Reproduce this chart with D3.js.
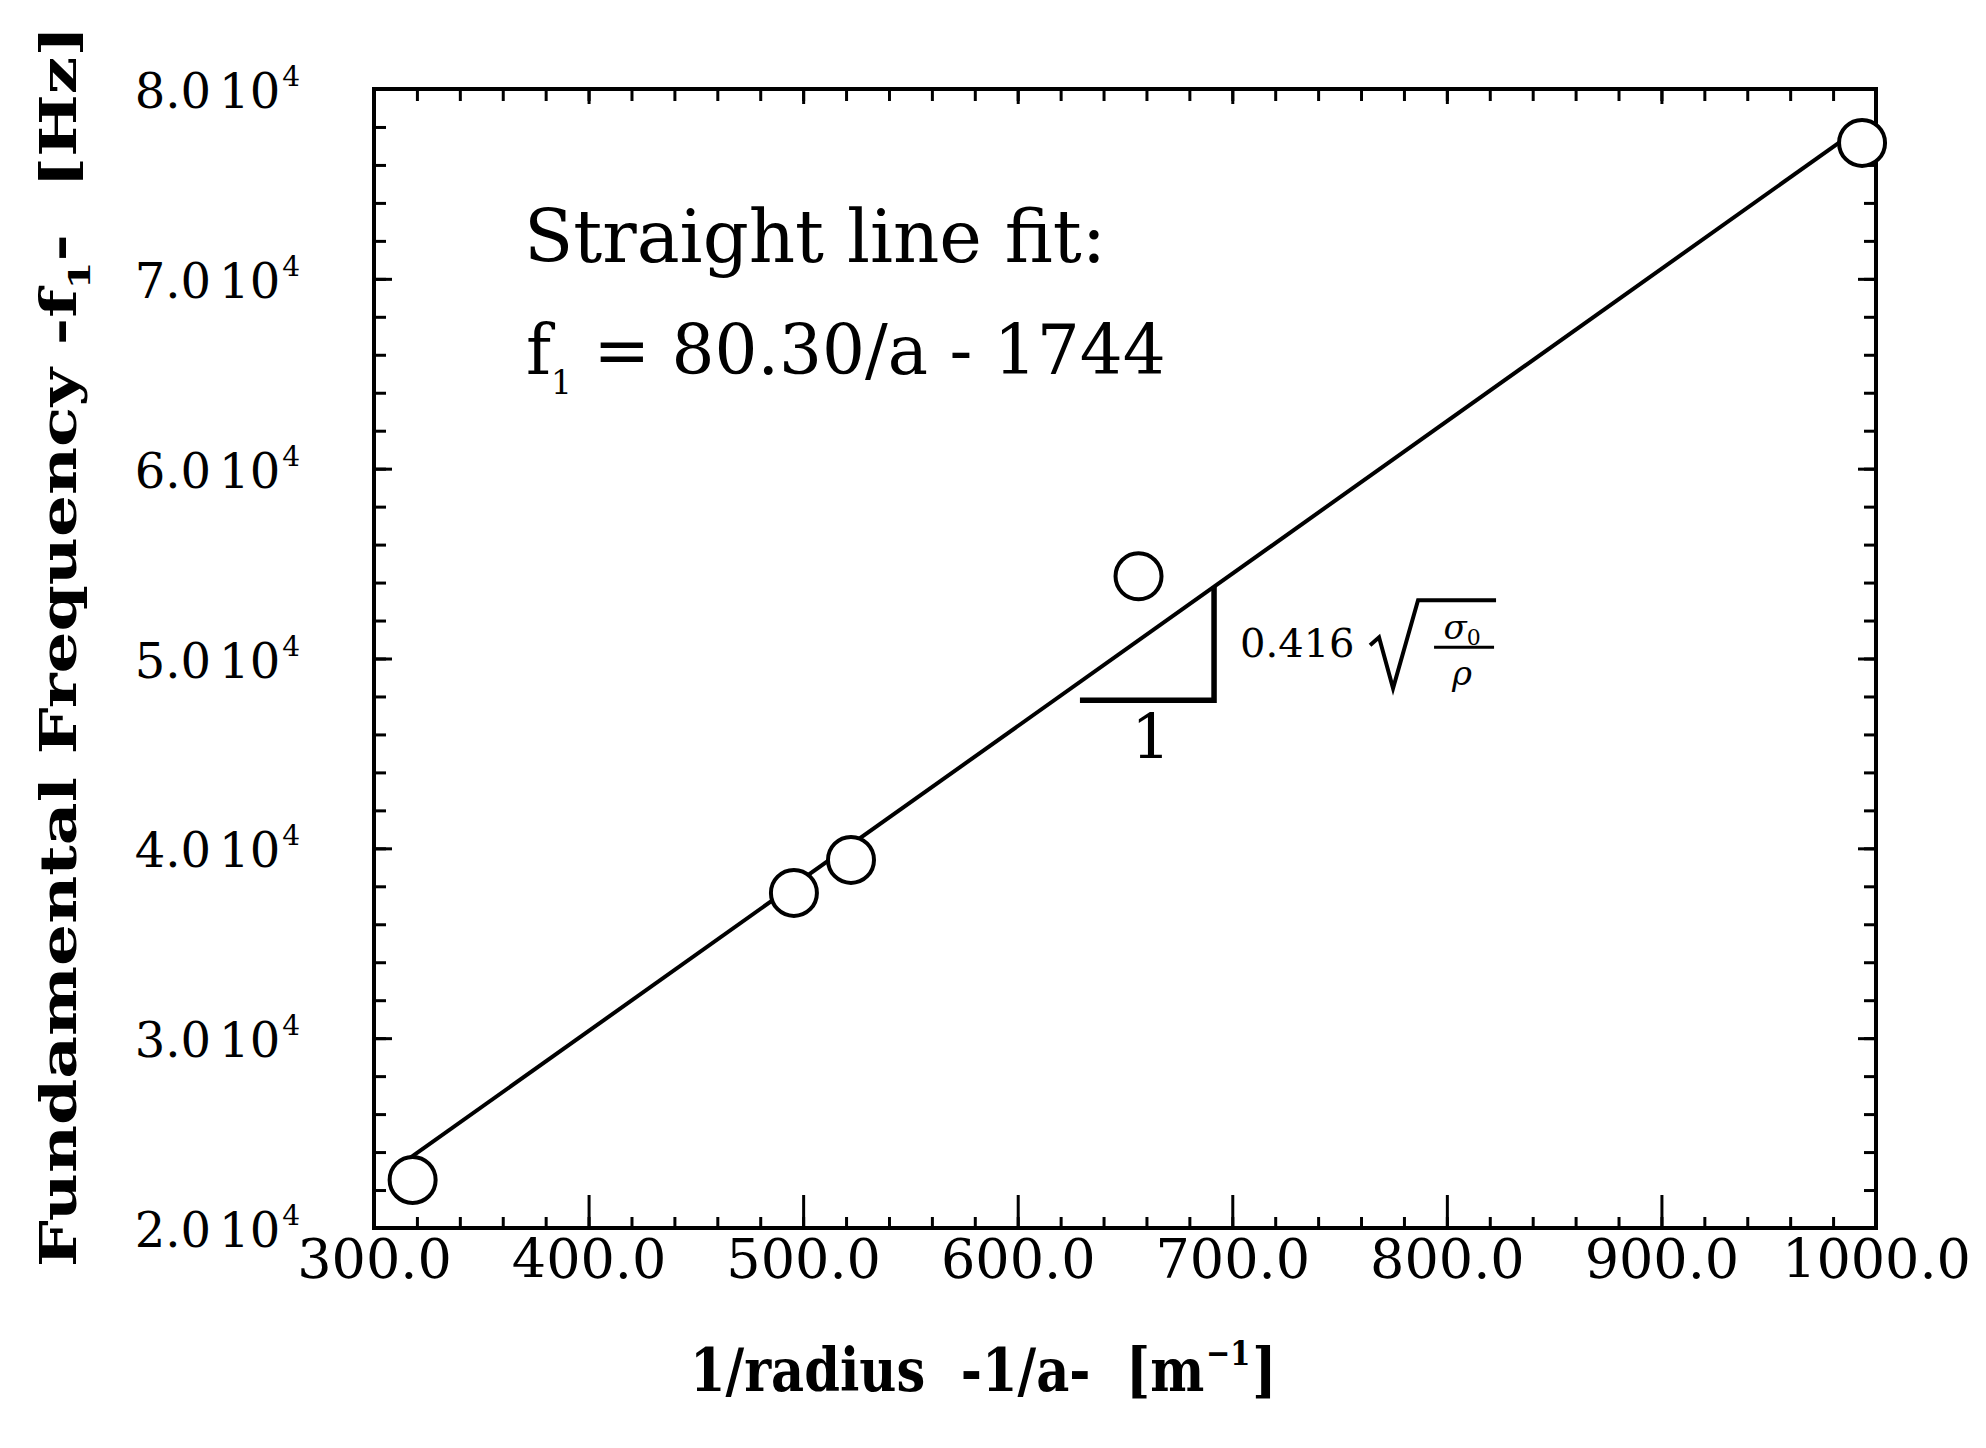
<!DOCTYPE html>
<html>
<head>
<meta charset="utf-8">
<script src="https://cdn.jsdelivr.net/npm/d3@7"></script>
<style>
  body { margin: 0; background: #fff; }
  text { font-family: "DejaVu Serif", "Liberation Serif", serif; fill: #000; white-space: pre; }
</style>
</head>
<body>
<div id="chart"></div>
<script>
// measured points: 1/a [1/m] and first frequency [Hz]
var radiusInv = [318, 495.7, 522.3, 656.3, 993.5]
var freq = [22530, 37650, 39390, 54330, 77160]

// straight line fit f1 = 80.30/a - 1744, drawn over this range of 1/a
var fitSlope = 80.30
var fitIntercept = -1744
var fitRange = [314, 993.5]

// slope triangle (x from, x to, bottom level)
var triX = [629, 691.5]
var triBase = 47800

var xMajor = [300, 400, 500, 600, 700, 800, 900, 1000]
var xMinor = d3.range(300, 1001, 20)
var yMajor = [20000, 30000, 40000, 50000, 60000, 70000, 80000]
var yMinor = d3.range(20000, 80001, 2000)
var yMantissa = ["2.0", "3.0", "4.0", "5.0", "6.0", "7.0", "8.0"]
var yExponent = "4"

var width = 1986
var height = 1448
var plotLeft = 374, plotRight = 1876, plotTop = 89, plotBottom = 1228

var svg = d3.select("#chart")
  .append("svg")
  .attr("width", width)
  .attr("height", height)

svg.append("rect").attr("width", width).attr("height", height).attr("fill", "white")

var x = d3.scaleLinear()
  .domain([300, 1000])
  .range([plotLeft, plotRight])

var y = d3.scaleLinear()
  .domain([20000, 80000])
  .range([plotBottom, plotTop])

// ticks, all pointing into the frame
function ticks(axis, tr, values, size) {
  var g = svg.append("g")
    .attr("transform", tr)
    .call(axis.tickValues(values).tickSize(size).tickFormat(""))
  g.select(".domain").remove()
  g.selectAll("line").attr("stroke", "black").attr("stroke-width", 3)
  return g
}
ticks(d3.axisBottom(x), "translate(0," + plotBottom + ")", xMinor, -11)
ticks(d3.axisBottom(x), "translate(0," + plotBottom + ")", xMajor, -33)
ticks(d3.axisTop(x), "translate(0," + plotTop + ")", xMinor, -12)
ticks(d3.axisTop(x), "translate(0," + plotTop + ")", xMajor, -15)
ticks(d3.axisLeft(y), "translate(" + plotLeft + ",0)", yMinor, -12)
ticks(d3.axisLeft(y), "translate(" + plotLeft + ",0)", yMajor, -18)
ticks(d3.axisRight(y), "translate(" + plotRight + ",0)", yMinor, -12)
ticks(d3.axisRight(y), "translate(" + plotRight + ",0)", yMajor, -18)

// x tick labels
var xl = svg.append("g")
  .attr("transform", "translate(0," + plotBottom + ")")
  .call(d3.axisBottom(x).tickValues(xMajor).tickSize(0).tickPadding(12).tickFormat(d3.format(".1f")))
xl.select(".domain").remove()
xl.attr("font-family", null).attr("font-size", null)
xl.selectAll("text").style("font-size", "54px")

// y tick labels  "8.0 10^4"
var yl = svg.append("g")
  .selectAll("text")
  .data(yMajor)
  .enter()
  .append("text")
  .attr("x", 300)
  .attr("y", function (d) { return y(d) + 19 })
  .attr("text-anchor", "end")
  .style("font-size", "48px")
yl.append("tspan").text(function (d, i) { return yMantissa[i] })
yl.append("tspan").attr("dx", 8).text("10")
yl.append("tspan").attr("dx", 2).attr("dy", -22).style("font-size", "28px").text(yExponent)

// frame
svg.append("rect")
  .attr("x", plotLeft)
  .attr("y", plotTop)
  .attr("width", plotRight - plotLeft)
  .attr("height", plotBottom - plotTop)
  .attr("fill", "none")
  .attr("stroke", "black")
  .attr("stroke-width", 4)

// fit line
var fitLine = d3.line()
  .x(function (d) { return x(d) })
  .y(function (d) { return y(fitSlope * d + fitIntercept) })

svg.append("path")
  .datum(fitRange)
  .attr("d", fitLine)
  .attr("fill", "none")
  .attr("stroke", "black")
  .attr("stroke-width", 4)

// slope triangle
var triTop = fitSlope * triX[1] + fitIntercept
svg.append("path")
  .datum([[triX[0], triBase], [triX[1], triBase], [triX[1], triTop]])
  .attr("d", d3.line().x(function (d) { return x(d[0]) }).y(function (d) { return y(d[1]) }))
  .attr("fill", "none")
  .attr("stroke", "black")
  .attr("stroke-width", 5.5)

svg.append("text")
  .attr("x", x((triX[0] + triX[1]) / 2) + 4)
  .attr("y", y(triBase) + 58)
  .attr("text-anchor", "middle")
  .style("font-size", "62px")
  .text("1")

// 0.416 sqrt(sigma0 / rho)
var x0 = x(triX[1]) + 26
var b = y(triBase) - 43
svg.append("text")
  .attr("x", x0)
  .attr("y", b)
  .style("font-size", "40px")
  .text("0.416")
svg.append("path")
  .attr("d", "M" + (x0 + 130) + "," + (b - 12) +
    "L" + (x0 + 139) + "," + (b - 20) +
    "L" + (x0 + 153) + "," + (b + 31) +
    "L" + (x0 + 178) + "," + (b - 57) +
    "L" + (x0 + 256) + "," + (b - 57))
  .attr("fill", "none")
  .attr("stroke", "black")
  .attr("stroke-width", 4)
svg.append("line")
  .attr("x1", x0 + 194).attr("x2", x0 + 254)
  .attr("y1", b - 10).attr("y2", b - 10)
  .attr("stroke", "black")
  .attr("stroke-width", 3)
var sig = svg.append("text")
  .attr("x", x0 + 222)
  .attr("y", b - 18)
  .attr("text-anchor", "middle")
  .style("font-size", "34px")
  .style("font-style", "italic")
sig.append("tspan").text("σ")
sig.append("tspan").attr("dy", 6).style("font-size", "22px").style("font-style", "normal").text("0")
svg.append("text")
  .attr("x", x0 + 222)
  .attr("y", b + 28)
  .attr("text-anchor", "middle")
  .style("font-size", "34px")
  .style("font-style", "italic")
  .text("ρ")

// points
svg.append("g")
  .selectAll("circle")
  .data(radiusInv)
  .enter()
  .append("circle")
  .attr("cx", function (d) { return x(d) })
  .attr("cy", function (d, i) { return y(freq[i]) })
  .attr("r", 23)
  .attr("fill", "white")
  .attr("stroke", "black")
  .attr("stroke-width", 4)

// squeeze a text sideways so that it is len pixels long
function fitWidth(t, tx, ty, len, rot) {
  var w = t.node().getComputedTextLength()
  t.attr("transform", "translate(" + tx + "," + ty + ")" + (rot ? " rotate(" + rot + ")" : "") + " scale(" + (len / w) + ",1)")
}

// fit annotation
svg.append("text")
  .attr("x", 524)
  .attr("y", 262)
  .style("font-size", "72px")
  .text("Straight line fit:")

var eq = svg.append("text")
  .style("font-size", "70px")
eq.append("tspan").text("f")
eq.append("tspan").attr("dy", 20).style("font-size", "34px").text("1")
eq.append("tspan").attr("dy", -20).text(" = 80.30/a - 1744")
fitWidth(eq, 526, 374, 640)

// axis titles
var xt = svg.append("text")
  .style("font-size", "60px")
  .style("font-weight", "bold")
xt.append("tspan").text("1/radius  -1/a-  [m")
xt.append("tspan").attr("dx", 2).attr("dy", -26).style("font-size", "34px").text("−1")
xt.append("tspan").attr("dx", 2).attr("dy", 26).text("]")
fitWidth(xt, 690, 1391, 583)

var yt = svg.append("text")
  .style("font-size", "50px")
  .style("font-weight", "bold")
yt.append("tspan").text("Fundamental Frequency -f")
yt.append("tspan").attr("dy", 14).style("font-size", "30px").text("1")
yt.append("tspan").attr("dy", -14).text("-  [Hz]")
fitWidth(yt, 76, 1267, 1242, -90)
</script>
</body>
</html>
